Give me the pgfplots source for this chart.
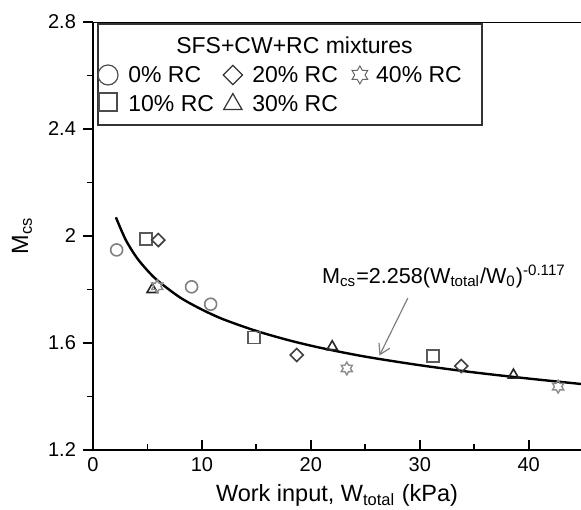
\documentclass[border=0pt]{standalone}
\usepackage{fontspec}
\setmainfont{Liberation Sans}
\usepackage{pgfplots}
\pgfplotsset{compat=1.18}
\usetikzlibrary{arrows.meta}

% six-pointed outline star used for the 40% RC series
\pgfdeclareplotmark{hexstar}{%
  \pgfpathmoveto{\pgfpointpolar{90}{\pgfplotmarksize}}%
  \pgfpathlineto{\pgfpointpolar{120}{0.577\pgfplotmarksize}}%
  \pgfpathlineto{\pgfpointpolar{150}{\pgfplotmarksize}}%
  \pgfpathlineto{\pgfpointpolar{180}{0.577\pgfplotmarksize}}%
  \pgfpathlineto{\pgfpointpolar{210}{\pgfplotmarksize}}%
  \pgfpathlineto{\pgfpointpolar{240}{0.577\pgfplotmarksize}}%
  \pgfpathlineto{\pgfpointpolar{270}{\pgfplotmarksize}}%
  \pgfpathlineto{\pgfpointpolar{300}{0.577\pgfplotmarksize}}%
  \pgfpathlineto{\pgfpointpolar{330}{\pgfplotmarksize}}%
  \pgfpathlineto{\pgfpointpolar{0}{0.577\pgfplotmarksize}}%
  \pgfpathlineto{\pgfpointpolar{30}{\pgfplotmarksize}}%
  \pgfpathlineto{\pgfpointpolar{60}{0.577\pgfplotmarksize}}%
  \pgfpathclose
  \pgfusepathqstroke}

\definecolor{cCirc}{HTML}{808080}
\definecolor{cSq}{HTML}{595959}
\definecolor{cDia}{HTML}{404040}
\definecolor{cTri}{HTML}{262626}
\definecolor{cStar}{HTML}{8C8C8C}

\begin{document}
\begin{tikzpicture}
\begin{axis}[
    scale only axis,
    width=244pt, height=214pt,
    xmin=0, xmax=44.8,
    ymin=1.2, ymax=2.8,
    axis x line*=bottom,
    axis y line*=left,
    axis line style={line width=1pt},
    xtick={0,10,20,30,40},
    ytick={1.2,1.6,2,2.4,2.8},
    minor x tick num=1,
    minor y tick num=1,
    xtick align=inside,
    ytick align=outside,
    major tick length=5pt,
    minor tick length=3pt,
    every tick/.style={black, line width=0.9pt},
    tick label style={font=\fontsize{10}{12}\selectfont},
    /pgf/number format/assume math mode=true,
    label style={font=\fontsize{11.75}{14}\selectfont},
    xlabel={Work input, W\textsubscript{total} (kPa)},
    xlabel style={at={(axis description cs:0.5,0)}, anchor=base, yshift=-26pt},
    ylabel={M\textsubscript{cs}},
    ylabel style={at={(axis description cs:-0.1455,0.5)}, anchor=center, rotate=0},
    clip=true,
]
% fitted curve M = 2.258 (W/W0)^-0.117, values listed
\addplot[black, line width=1.2pt, smooth] coordinates {
  (2.1,2.070) (3,1.986) (4,1.920) (5,1.871) (6,1.831) (8,1.770)
  (10,1.725) (12,1.688) (15,1.645) (18,1.610) (21,1.581) (25,1.549)
  (30,1.517) (35,1.490) (40,1.467) (45,1.446)};

% 0% RC
\addplot[only marks, mark=o, mark size=3pt, cCirc, mark options={line width=0.8pt}]
  coordinates {(2.17,1.948) (9.05,1.810) (10.8,1.745)};
% 10% RC
\addplot[only marks, mark=square, mark size=3pt, cSq, mark options={line width=0.8pt}]
  coordinates {(4.86,1.989) (14.8,1.620) (31.2,1.551)};
% 20% RC
\addplot[only marks, mark=square, mark size=2.3pt, cDia, mark options={rotate=45, line width=0.8pt}]
  coordinates {(6.0,1.985) (18.7,1.555) (33.8,1.514)};
% 30% RC
\addplot[only marks, mark=triangle, mark size=3pt, cTri, mark options={line width=0.8pt}]
  coordinates {(5.44,1.800) (21.96,1.586) (38.6,1.480)};
% 40% RC
\addplot[only marks, mark=hexstar, mark size=3.2pt, cStar, mark options={line width=0.7pt}]
  coordinates {(5.9,1.812) (23.3,1.505) (42.7,1.437)};

% top border of the frame
\draw[line width=1pt] (rel axis cs:0,1) -- (rel axis cs:1,1);

% equation and arrow
\node[anchor=base west, inner sep=0pt, font=\fontsize{10.8}{13}\selectfont]
  at (axis cs:21.0,1.824) {M\textsubscript{cs}=2.258(W\textsubscript{total}/W\textsubscript{0})\textsuperscript{-0.117}};
\draw[cCirc, line width=0.6pt, -{Straight Barb[length=5pt, width=6pt]}]
  (axis cs:28.9,1.768) -- (axis cs:26.3,1.553);

% legend
\draw[fill=white, draw=black!80, line width=0.8pt] (axis cs:0.46,2.7925) rectangle (axis cs:35.7,2.415);
\begin{scope}[font=\fontsize{11.5}{14}\selectfont]
\node[anchor=base, inner sep=0pt] at (axis cs:18.5,2.683) {SFS+CW+RC mixtures};
\node[anchor=base west, inner sep=0pt] at (axis cs:3.21,2.572) {0\% RC};
\node[anchor=base west, inner sep=0pt] at (axis cs:14.59,2.572) {20\% RC};
\node[anchor=base west, inner sep=0pt] at (axis cs:25.96,2.572) {40\% RC};
\node[anchor=base west, inner sep=0pt] at (axis cs:3.21,2.467) {10\% RC};
\node[anchor=base west, inner sep=0pt] at (axis cs:14.59,2.467) {30\% RC};
\end{scope}
\coordinate (lc) at (axis cs:1.38,2.602);
\coordinate (ld) at (axis cs:12.84,2.602);
\coordinate (ls) at (axis cs:24.5,2.602);
\coordinate (lq) at (axis cs:1.38,2.501);
\coordinate (lt) at (axis cs:12.84,2.501);

\coordinate (bl) at (rel axis cs:0,0);
\coordinate (tr) at (rel axis cs:1,1);
\end{axis}
% legend symbols
\draw[black!70, line width=0.6pt] (lc) circle[radius=5pt];
\draw[black!80, line width=0.6pt, shift={(ld)}]
  (0,-4.8pt) -- (4.8pt,0) -- (0,4.8pt) -- (-4.8pt,0) -- cycle;
\draw[black!60, line width=0.5pt, shift={(ls)}]
  (90:4.5pt) -- (120:2.6pt) -- (150:4.5pt) -- (180:2.6pt) -- (210:4.5pt) -- (240:2.6pt)
  -- (270:4.5pt) -- (300:2.6pt) -- (330:4.5pt) -- (0:2.6pt) -- (30:4.5pt) -- (60:2.6pt) -- cycle;
\draw[black!70, line width=0.6pt, shift={(lq)}] (-4.5pt,-4.5pt) rectangle (4.5pt,4.5pt);
\draw[black!80, line width=0.6pt, shift={(lt)}]
  (-4.6pt,-3.8pt) -- (4.6pt,-3.8pt) -- (0,4.2pt) -- cycle;
\pgfresetboundingbox
\path[use as bounding box] ([shift={(-46.5pt,-30pt)}]bl) rectangle ([shift={(0pt,11pt)}]tr);
\end{tikzpicture}
\end{document}
